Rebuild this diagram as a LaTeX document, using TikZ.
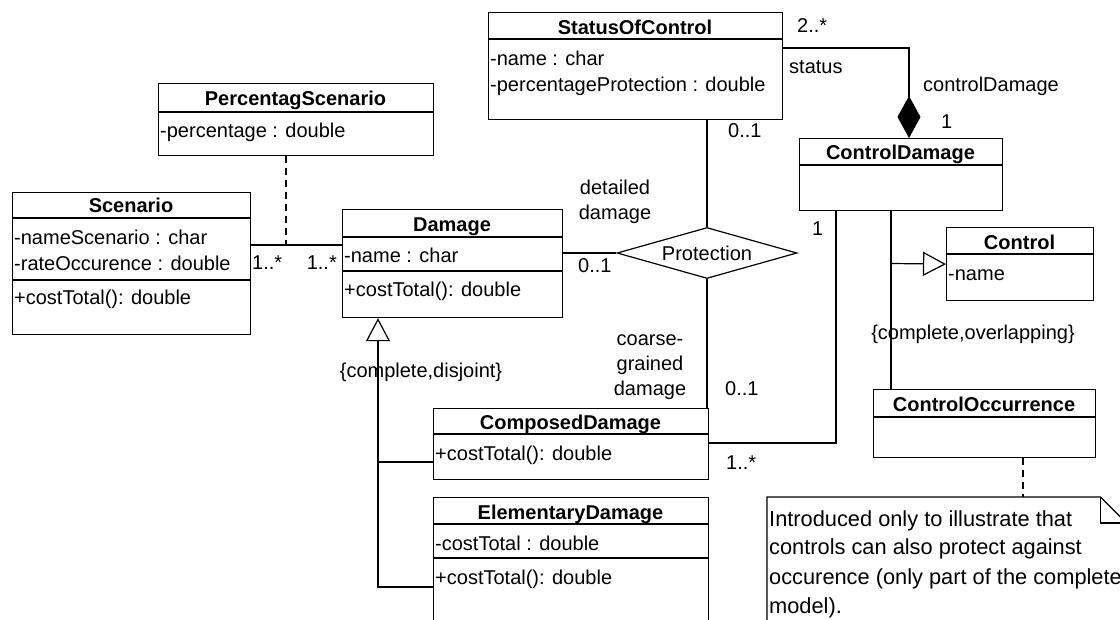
\documentclass[tikz,border=0pt]{standalone}
\usepackage{fontspec}
\setmainfont{Liberation Sans}
\usetikzlibrary{arrows.meta,shapes.geometric}
\tikzset{
  umlbox/.style={draw, line width=1.2pt, fill=white, inner sep=0pt, anchor=north west},
  ttl/.style={font=\fontsize{20}{24}\selectfont\bfseries, anchor=base, inner sep=0pt},
  att/.style={font=\fontsize{20}{24}\selectfont, anchor=base west, inner sep=0pt},
  lblc/.style={font=\fontsize{20}{24}\selectfont, anchor=base, inner sep=0pt},
  lble/.style={font=\fontsize{20}{24}\selectfont, anchor=base east, inner sep=0pt},
  notetxt/.style={font=\fontsize{21.8}{26}\selectfont, anchor=base west, inner sep=0pt},
  conn/.style={line width=1.2pt},
  dsh/.style={line width=1.2pt, dash pattern=on 7pt off 5pt},
  gen/.style={line width=1.2pt, -{Triangle[open, length=23pt, width=24pt, line width=1.2pt]}},
  compo/.style={line width=1.2pt, -{Diamond[length=42pt, width=23pt, fill=black]}},
}
\begin{document}
\begin{tikzpicture}[x=1pt,y=-1pt]
\useasboundingbox (0,0) rectangle (1120,619);
\fill[white] (0,0) rectangle (1120,619);
\clip (0,0) rectangle (1120,619);

% ---------- classes ----------
% PercentagScenario
\node[umlbox, minimum width=275pt, minimum height=72pt] (perc) at (158,83) {};
\node[ttl] at (295.5,105) {PercentagScenario};
\draw[conn] (158,112) -- (433,112);
\node[att] at (160,137) {-percentage : double};

% Scenario
\node[umlbox, minimum width=238pt, minimum height=142pt] (scen) at (12,192) {};
\node[ttl] at (131,212) {Scenario};
\draw[conn] (12,218) -- (250,218);
\node[att] at (14,244) {-nameScenario : char};
\node[att] at (14,270) {-rateOccurence : double};
\draw[conn] (12,280) -- (250,280);
\node[att] at (14,304) {+costTotal(): double};

% Damage
\node[umlbox, minimum width=220pt, minimum height=108pt] (dmg) at (342,209) {};
\node[ttl] at (452,231) {Damage};
\draw[conn] (342,237) -- (562,237);
\node[att] at (344,262) {-name : char};
\draw[conn] (342,271) -- (562,271);
\node[att] at (344,296) {+costTotal(): double};

% StatusOfControl
\node[umlbox, minimum width=294pt, minimum height=107pt] (soc) at (488,12) {};
\node[ttl] at (635,34) {StatusOfControl};
\draw[conn] (488,39) -- (782,39);
\node[att] at (490,65) {-name : char};
\node[att] at (490,91) {-percentageProtection : double};

% ControlDamage
\node[umlbox, minimum width=203pt, minimum height=72pt] (cd) at (799,138) {};
\node[ttl] at (900.5,159) {ControlDamage};
\draw[conn] (799,165) -- (1002,165);

% Control
\node[umlbox, minimum width=147pt, minimum height=73pt] (ctl) at (946,227) {};
\node[ttl] at (1019.5,249) {Control};
\draw[conn] (946,254) -- (1093,254);
\node[att] at (948,280) {-name};

% ComposedDamage
\node[umlbox, minimum width=275pt, minimum height=71pt] (comp) at (433,408) {};
\node[ttl] at (570.5,429) {ComposedDamage};
\draw[conn] (433,434) -- (708,434);
\node[att] at (435,460) {+costTotal(): double};

% ElementaryDamage
\node[umlbox, minimum width=275pt, minimum height=140pt] (elem) at (433,497) {};
\node[ttl] at (570.5,519) {ElementaryDamage};
\draw[conn] (433,524) -- (708,524);
\node[att] at (435,550) {-costTotal : double};
\draw[conn] (433,558) -- (708,558);
\node[att] at (435,584) {+costTotal(): double};

% ControlOccurrence
\node[umlbox, minimum width=222pt, minimum height=68pt] (co) at (873,389) {};
\node[ttl] at (984,411) {ControlOccurrence};
\draw[conn] (873,417) -- (1095,417);

% Protection association diamond
\node[draw, line width=1.2pt, shape=diamond, aspect=3.5, minimum width=180pt, minimum height=51pt, inner sep=0pt, font=\fontsize{20}{24}\selectfont] (prot) at (707,253) {Protection};

% Note
\node[anchor=north west, minimum width=359pt, minimum height=150pt, inner sep=0pt] (note) at (767,497) {};
\draw[conn] (note.north west) -- ([xshift=-26pt]note.north east) -- ([yshift=-26pt]note.north east) -- (note.south east) -- (note.south west) -- cycle;
\draw[conn] ([xshift=-26pt]note.north east) -- ([xshift=-26pt,yshift=-26pt]note.north east) -- ([yshift=-26pt]note.north east);
\node[notetxt] at (769,526) {Introduced only to illustrate that};
\node[notetxt] at (769,554) {controls can also protect against};
\node[notetxt] at (769,584) {occurence (only part of the complete};
\node[notetxt] at (769,613) {model).};

% ---------- connectors ----------
% Scenario -- Damage, with PercentagScenario as association class
\coordinate (aj) at (286,245);
\draw[conn] ([yshift=-53pt]scen.north east) -- ([yshift=-36pt]dmg.north west);
\draw[dsh] (perc.south -| aj) -- (aj);
\node[att] at (252,269) {1..*};
\node[lble] at (337,269) {1..*};

% Damage -- Protection
\draw[conn] ([yshift=-44pt]dmg.north east) -- (prot.west);
\node[att] at (578,272) {0..1};

% StatusOfControl -- Protection
\draw[conn] (prot.north |- soc.south) -- (prot.north);
\node[att] at (728,137) {0..1};
\node[lblc] at (615,194) {detailed};
\node[lblc] at (615,219) {damage};

% Protection -- ComposedDamage
\draw[conn] (prot.south) -- (prot.south |- comp.north);
\node[lblc] at (650,345) {coarse-};
\node[lblc] at (650,370) {grained};
\node[lblc] at (650,395) {damage};
\node[att] at (725,395) {0..1};

% StatusOfControl -- ControlDamage (composition)
\draw[compo] ([yshift=-36pt]soc.north east) -| ([xshift=110pt]cd.north west);
\node[att] at (797,32) {2..*};
\node[att] at (789,73) {status};
\node[att] at (923,91) {controlDamage};
\node[att] at (941,128) {1};

% ComposedDamage -- ControlDamage
\draw[conn] ([yshift=-35pt]comp.north east) -| ([xshift=37pt]cd.south west);
\node[att] at (812,235) {1};
\node[att] at (726,469) {1..*};

% Generalization ControlDamage / ControlOccurrence -> Control
\coordinate (gj) at (891,263.5);
\draw[conn] ([xshift=92pt]cd.south west) -- ([xshift=18pt]co.north west);
\draw[gen] (gj) -- (ctl.west);
\node[lblc] at (973,339) {\{complete,overlapping\}};

% Generalization ComposedDamage / ElementaryDamage -> Damage
\coordinate (cj) at (378,462);
\draw[gen] ([yshift=-90pt]elem.north west) -| ([xshift=36pt]dmg.south west);
\draw[conn] ([yshift=-54pt]comp.north west) -- (cj);
\node[lblc] at (421,377) {\{complete,disjoint\}};

% ControlOccurrence -- note
\coordinate (cod) at ([xshift=150pt]co.south west);
\draw[dsh] (cod) -- (cod |- note.north);
\end{tikzpicture}
\end{document}
